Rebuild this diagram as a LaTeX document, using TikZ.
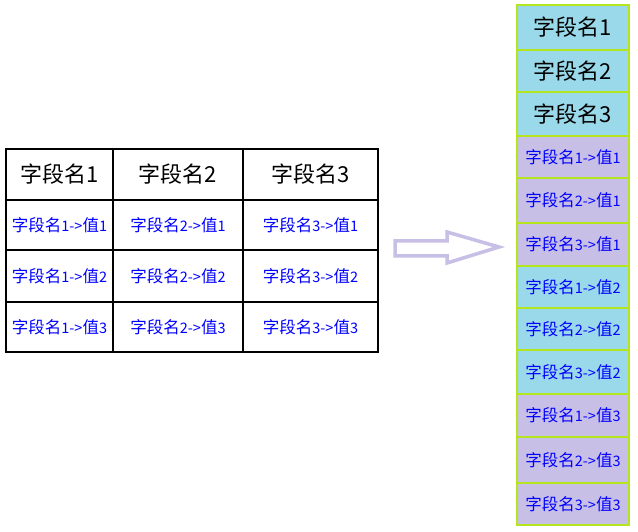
\documentclass[tikz,border=0pt]{standalone}
\usepackage{fontspec}
\newfontfamily\cjk{Noto Sans CJK SC}
\usetikzlibrary{positioning}
\definecolor{keyblue}{HTML}{99D9EA}
\definecolor{valpurple}{HTML}{C8BFE7}
\definecolor{slotgreen}{HTML}{B5E61D}
\newcommand{\fieldval}[2]{字段名{\fontsize{14.5}{14.5}\selectfont#1->}值{\fontsize{14.5}{14.5}\selectfont#2}}

\begin{document}
\begin{tikzpicture}[x=1pt, y=-1pt,
    cell/.style={draw=black, line width=2pt, anchor=north west, inner sep=0pt, outer sep=0pt,
                 text=blue, font=\cjk\fontsize{16.5}{16.5}\selectfont},
    head/.style={cell, text=black, font=\cjk\fontsize{22}{22}\selectfont},
    slot/.style={draw=slotgreen, line width=2.5pt, anchor=north west, inner sep=0pt, outer sep=0pt,
                 minimum width=112pt, text=blue, font=\cjk\fontsize{16.5}{16.5}\selectfont},
    slothead/.style={slot, text=black, fill=keyblue, font=\cjk\fontsize{22}{22}\selectfont}]
    \fill[white] (0,0) rectangle (638,532);
    \useasboundingbox (0,0) rectangle (638,532);
    % table
    \node[head, minimum width=107pt, minimum height=51pt] (h1) at (6,149) {字段名1};
    \node[head, minimum width=130pt, minimum height=51pt] (h2) at (h1.north east) {字段名2};
    \node[head, minimum width=135pt, minimum height=51pt] (h3) at (h2.north east) {字段名3};
    \node[cell, minimum width=107pt, minimum height=50pt] (a1) at (h1.south west) {\fieldval{1}{1}};
    \node[cell, minimum width=130pt, minimum height=50pt] (a2) at (h2.south west) {\fieldval{2}{1}};
    \node[cell, minimum width=135pt, minimum height=50pt] (a3) at (h3.south west) {\fieldval{3}{1}};
    \node[cell, minimum width=107pt, minimum height=52pt] (b1) at (a1.south west) {\fieldval{1}{2}};
    \node[cell, minimum width=130pt, minimum height=52pt] (b2) at (a2.south west) {\fieldval{2}{2}};
    \node[cell, minimum width=135pt, minimum height=52pt] (b3) at (a3.south west) {\fieldval{3}{2}};
    \node[cell, minimum width=107pt, minimum height=50pt] (c1) at (b1.south west) {\fieldval{1}{3}};
    \node[cell, minimum width=130pt, minimum height=50pt] (c2) at (b2.south west) {\fieldval{2}{3}};
    \node[cell, minimum width=135pt, minimum height=50pt] (c3) at (b3.south west) {\fieldval{3}{3}};
    % arrow
    \draw[valpurple, line width=3.5pt, fill=white, line join=miter]
        (395,241) -- (447,241) -- (447,232) -- (499,247) -- (447,263) -- (447,256) -- (395,256) -- cycle;
    % column
    \node[slothead, minimum height=45pt] (s1) at (517,5) {字段名1};
    \node[slothead, minimum height=42pt] (s2) at (s1.south west) {字段名2};
    \node[slothead, minimum height=44pt] (s3) at (s2.south west) {字段名3};
    \node[slot, fill=valpurple, minimum height=42pt] (s4) at (s3.south west) {\fieldval{1}{1}};
    \node[slot, fill=valpurple, minimum height=45pt] (s5) at (s4.south west) {\fieldval{2}{1}};
    \node[slot, fill=valpurple, minimum height=43pt] (s6) at (s5.south west) {\fieldval{3}{1}};
    \node[slot, fill=keyblue, minimum height=42pt] (s7) at (s6.south west) {\fieldval{1}{2}};
    \node[slot, fill=keyblue, minimum height=42pt] (s8) at (s7.south west) {\fieldval{2}{2}};
    \node[slot, fill=keyblue, minimum height=44pt] (s9) at (s8.south west) {\fieldval{3}{2}};
    \node[slot, fill=valpurple, minimum height=43pt] (s10) at (s9.south west) {\fieldval{1}{3}};
    \node[slot, fill=valpurple, minimum height=46pt] (s11) at (s10.south west) {\fieldval{2}{3}};
    \node[slot, fill=valpurple, minimum height=42pt] (s12) at (s11.south west) {\fieldval{3}{3}};
\end{tikzpicture}
\end{document}
